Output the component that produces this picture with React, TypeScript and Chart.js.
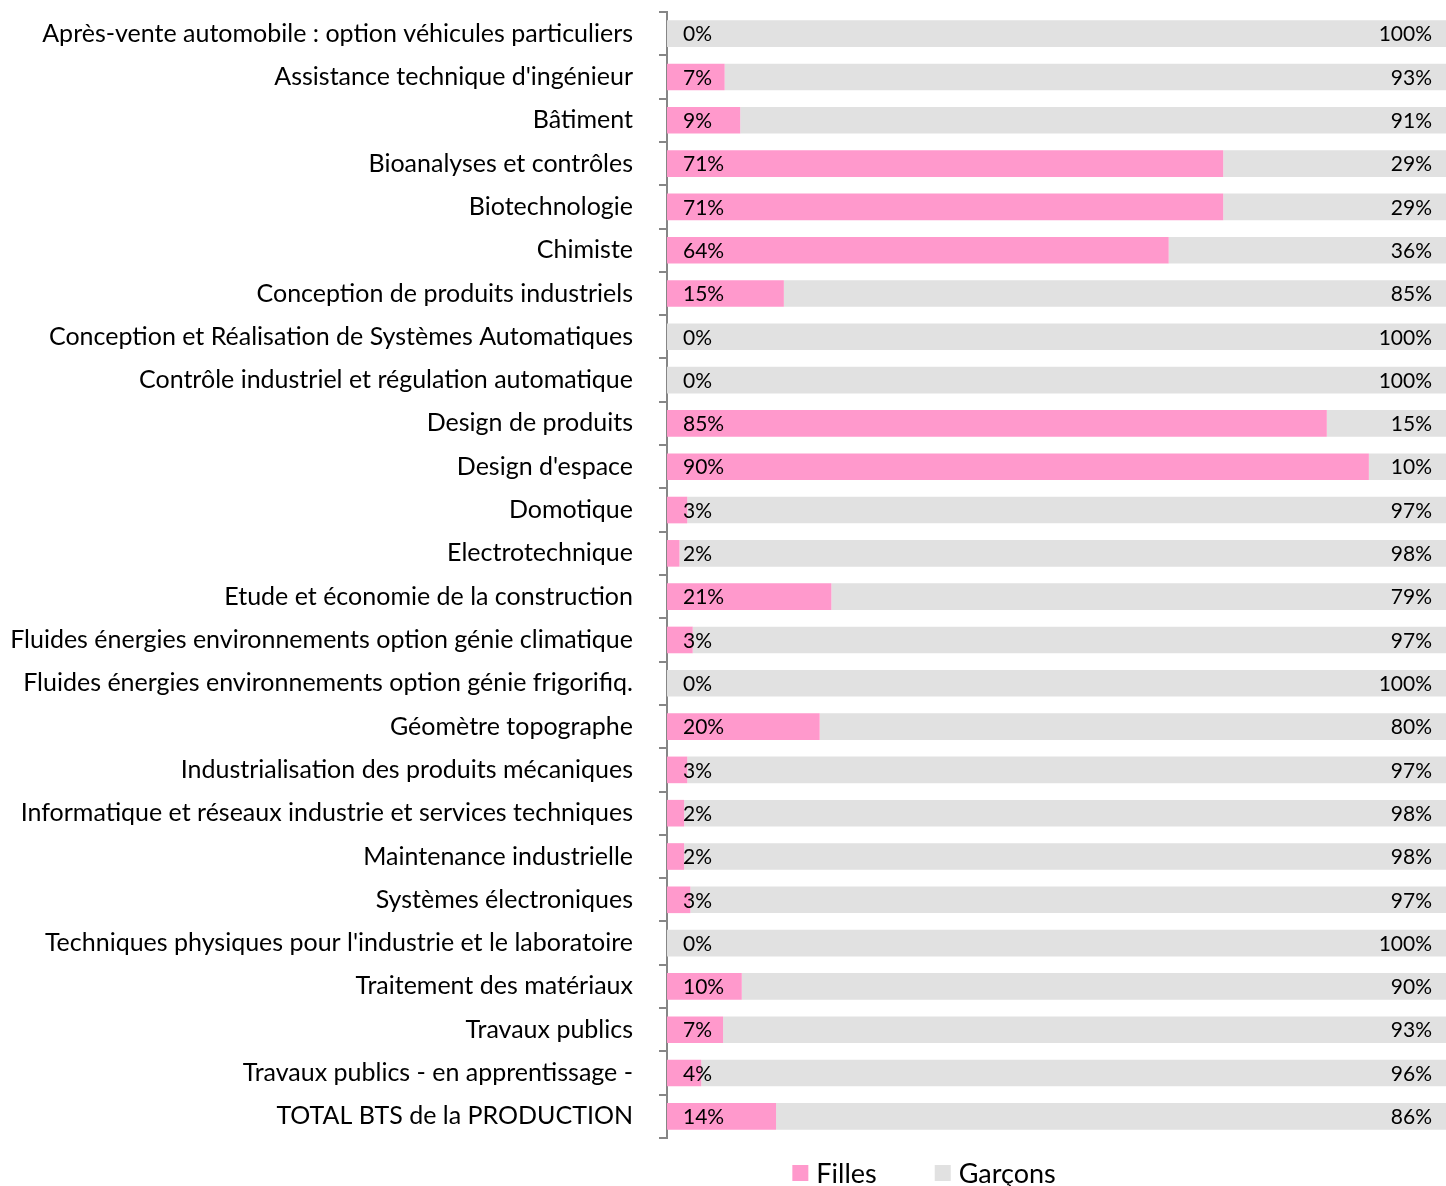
import React, { useEffect, useRef } from "react";
import { Chart, registerables } from "chart.js";

Chart.register(...registerables);

const categories: string[] = [
  "Après-vente automobile : option véhicules particuliers",
  "Assistance technique d'ingénieur",
  "Bâtiment",
  "Bioanalyses et contrôles",
  "Biotechnologie",
  "Chimiste",
  "Conception de produits industriels",
  "Conception et Réalisation de Systèmes Automatiques",
  "Contrôle industriel et régulation automatique",
  "Design de produits",
  "Design d'espace",
  "Domotique",
  "Electrotechnique",
  "Etude et économie de la construction",
  "Fluides énergies environnements option génie climatique",
  "Fluides énergies environnements option génie frigorifiq.",
  "Géomètre topographe",
  "Industrialisation des produits mécaniques",
  "Informatique et réseaux industrie et services techniques",
  "Maintenance industrielle",
  "Systèmes électroniques",
  "Techniques physiques pour l'industrie et le laboratoire",
  "Traitement des matériaux",
  "Travaux publics",
  "Travaux publics - en apprentissage -",
  "TOTAL BTS de la PRODUCTION",
];

const filles: number[] = [
  0, 7.4, 9.4, 71.4, 71.4, 64.4, 15.0, 0, 0, 84.7, 90.1, 2.6, 1.6, 21.1, 3.3, 0,
  19.6, 2.6, 2.2, 2.2, 3.0, 0, 9.6, 7.2, 4.4, 14.0,
];

const garcons: number[] = [
  100, 92.6, 90.6, 28.6, 28.6, 35.6, 85.0, 100, 100, 15.3, 9.9, 97.4, 98.4, 78.9,
  96.7, 100, 80.4, 97.4, 97.8, 97.8, 97.0, 100, 90.4, 92.8, 95.6, 86.0,
];

const seriesNames: string[] = ["Filles", "Garçons"];
const seriesColors: string[] = ["#FF99CC", "#E1E1E1"];
const FONT = "Lato";

const labelPlugin = {
  id: "barLabels",
  afterDatasetsDraw(chart: any) {
    const ctx = chart.ctx;
    const area = chart.chartArea;
    ctx.save();
    ctx.font = `21px ${FONT}`;
    ctx.fillStyle = "#000000";
    ctx.textBaseline = "middle";
    chart.data.datasets.forEach((ds: any, di: number) => {
      const meta = chart.getDatasetMeta(di);
      meta.data.forEach((el: any, i: number) => {
        const v = Math.round(ds.data[i]) + "%";
        if (di === 0) {
          ctx.textAlign = "left";
          ctx.fillText(v, area.left + 16, el.y + 1);
        } else {
          ctx.textAlign = "right";
          ctx.fillText(v, area.right - 14, el.y + 1);
        }
      });
    });
    ctx.restore();
  },
};

const legendPlugin = {
  id: "customLegend",
  afterDraw(chart: any) {
    const ctx = chart.ctx;
    const area = chart.chartArea;
    ctx.save();
    ctx.font = `27px ${FONT}`;
    ctx.textBaseline = "middle";
    ctx.textAlign = "left";
    const box = 16;
    const gapText = 8;
    const gapItem = 58;
    const names = chart.data.datasets.map((d: any) => d.label);
    const widths = names.map((n: string) => ctx.measureText(n).width);
    let total = 0;
    widths.forEach((w: number, i: number) => {
      total += box + gapText + w + (i < widths.length - 1 ? gapItem : 0);
    });
    const centerX = area.left + (area.right - area.left) * 0.33;
    const cy = area.bottom + 35;
    let x = centerX - total / 2;
    chart.data.datasets.forEach((d: any, i: number) => {
      ctx.fillStyle = d.backgroundColor;
      ctx.fillRect(x, cy - box / 2, box, box);
      x += box + gapText;
      ctx.fillStyle = "#000000";
      ctx.fillText(d.label, x, cy + 1);
      x += widths[i] + gapItem;
    });
    ctx.restore();
  },
};

export default function App() {
  const ref = useRef<HTMLCanvasElement | null>(null);
  useEffect(() => {
    if (!ref.current) return;
    const chart = new Chart(ref.current, {
      type: "bar",
      data: {
        labels: categories,
        datasets: [
          {
            label: seriesNames[0],
            data: filles,
            backgroundColor: seriesColors[0],
            borderWidth: 0,
            barPercentage: 0.615,
            categoryPercentage: 1,
          },
          {
            label: seriesNames[1],
            data: garcons,
            backgroundColor: seriesColors[1],
            borderWidth: 0,
            barPercentage: 0.615,
            categoryPercentage: 1,
          },
        ],
      },
      options: {
        indexAxis: "y",
        responsive: false,
        animation: false,
        devicePixelRatio: 1,
        layout: { padding: { top: 12, right: 0, left: 0, bottom: 48 } },
        scales: {
          x: { display: false, stacked: true, min: 0, max: 100 },
          y: {
            stacked: true,
            afterFit: (s: any) => {
              s.width = 667;
              s.paddingTop = 0;
              s.paddingBottom = 0;
            },
            grid: {
              offset: true,
              drawOnChartArea: false,
              drawTicks: true,
              tickLength: 8,
              color: "#868686",
              lineWidth: 2,
            },
            border: { display: true, color: "#868686", width: 2 },
            ticks: {
              padding: 26,
              color: "#000000",
              font: { family: FONT, size: 25 },
              autoSkip: false,
            },
          },
        },
        plugins: {
          legend: { display: false },
          tooltip: { enabled: false },
        },
      },
      plugins: [labelPlugin, legendPlugin],
    });
    return () => chart.destroy();
  }, []);
  return (
    <div style={{ position: "absolute", left: 0, top: 0, width: 1446, height: 1186 }}>
      <canvas ref={ref} width={1446} height={1186} style={{ width: 1446, height: 1186 }} />
    </div>
  );
}
